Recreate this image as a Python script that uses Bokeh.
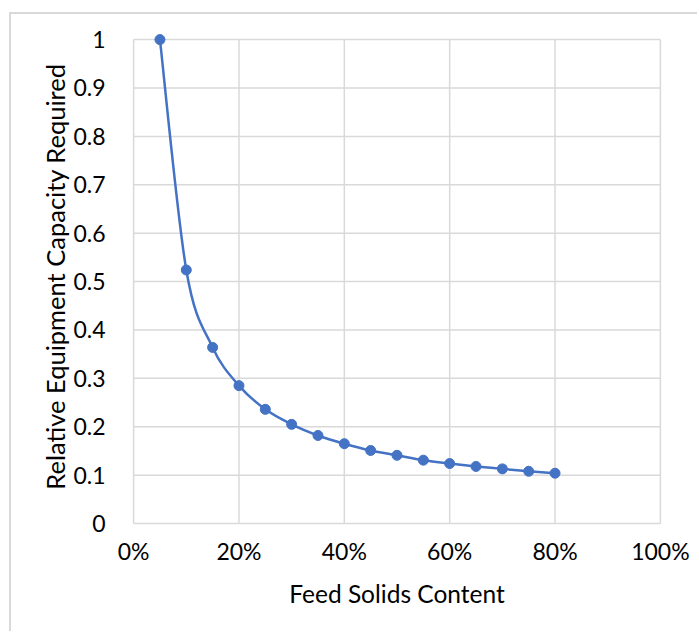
from bokeh.plotting import figure
from bokeh.models import Range1d, FixedTicker, NumeralTickFormatter
from bokeh.embed import file_html
from bokeh.resources import INLINE

# Data
solids = [0.05, 0.10, 0.15, 0.20, 0.25, 0.30, 0.35, 0.40, 0.45, 0.50, 0.55, 0.60, 0.65, 0.70, 0.75, 0.80]
capacity = [1.0, 0.524, 0.364, 0.285, 0.236, 0.205, 0.182, 0.165, 0.151, 0.141, 0.131, 0.124, 0.118, 0.113, 0.108, 0.104]
x_ticks = [0, 0.2, 0.4, 0.6, 0.8, 1.0]
y_ticks = [0, 0.1, 0.2, 0.3, 0.4, 0.5, 0.6, 0.7, 0.8, 0.9, 1.0]

BLUE = "#4472C4"
GRID = "#d9d9d9"
FONT = "Lato"

p = figure(width=688, height=619, output_backend="svg", toolbar_location=None,
           x_range=Range1d(-0.004, 1.004), y_range=Range1d(-0.004, 1.025),
           min_border_left=120, min_border_right=37, min_border_top=13, min_border_bottom=108)
p.styles = {"margin-left": "9px", "margin-top": "12px",
            "border-left": "2px solid #d9d9d9", "border-top": "2px solid #d9d9d9"}
p.outline_line_color = None
p.background_fill_color = "white"
p.border_fill_color = "white"
p.xgrid.visible = False
p.ygrid.visible = False

# Gridlines spanning exactly the 0..1 plot area
x_lo, x_hi = x_ticks[0], x_ticks[-1]
y_lo, y_hi = y_ticks[0], y_ticks[-1]
p.segment(x0=x_ticks, y0=[y_lo] * len(x_ticks), x1=x_ticks, y1=[y_hi] * len(x_ticks),
          line_color=GRID, line_width=1.5)
p.segment(x0=[x_lo] * len(y_ticks), y0=y_ticks, x1=[x_hi] * len(y_ticks), y1=y_ticks,
          line_color=GRID, line_width=1.5)

# Smooth curve (Excel-style bezier) from the data points
n = len(solids)
x0, y0, x1, y1, cx0, cy0, cx1, cy1 = [], [], [], [], [], [], [], []
for i in range(n - 1):
    pm = i - 1 if i > 0 else i
    pp = i + 2 if i + 2 < n else i + 1
    x0.append(solids[i]); y0.append(capacity[i])
    x1.append(solids[i + 1]); y1.append(capacity[i + 1])
    cx0.append(solids[i] + (solids[i + 1] - solids[pm]) / 6)
    cy0.append(capacity[i] + (capacity[i + 1] - capacity[pm]) / 6)
    cx1.append(solids[i + 1] - (solids[pp] - solids[i]) / 6)
    cy1.append(capacity[i + 1] - (capacity[pp] - capacity[i]) / 6)
p.bezier(x0=x0, y0=y0, x1=x1, y1=y1, cx0=cx0, cy0=cy0, cx1=cx1, cy1=cy1,
         line_color=BLUE, line_width=2.5)
p.scatter(solids, capacity, size=10, fill_color=BLUE, line_color=BLUE)

for ax in (p.xaxis[0], p.yaxis[0]):
    ax.axis_line_color = None
    ax.major_tick_line_color = None
    ax.minor_tick_line_color = None
    ax.major_tick_out = 0
    ax.major_tick_in = 0
    ax.minor_tick_out = 0
    ax.major_label_text_font = FONT
    ax.major_label_text_font_size = "23px"
    ax.major_label_text_color = "#000000"
    ax.axis_label_text_font = FONT
    ax.axis_label_text_font_style = "normal"
    ax.axis_label_text_color = "#000000"

p.xaxis.ticker = FixedTicker(ticks=x_ticks)
p.xaxis.formatter = NumeralTickFormatter(format="0%")
p.xaxis.major_label_standoff = 11
p.xaxis.axis_label = "Feed Solids Content"
p.xaxis.axis_label_text_font_size = "24.5px"
p.xaxis.axis_label_standoff = 11

p.yaxis.ticker = FixedTicker(ticks=y_ticks)
p.yaxis.major_label_overrides = {0: "0", 1.0: "1"}
p.yaxis.major_label_standoff = 26
p.yaxis.axis_label = "Relative Equipment Capacity Required"
p.yaxis.axis_label_text_font_size = "25.5px"
p.yaxis.axis_label_standoff = 0

open("out.html", "w").write(file_html(p, INLINE))
